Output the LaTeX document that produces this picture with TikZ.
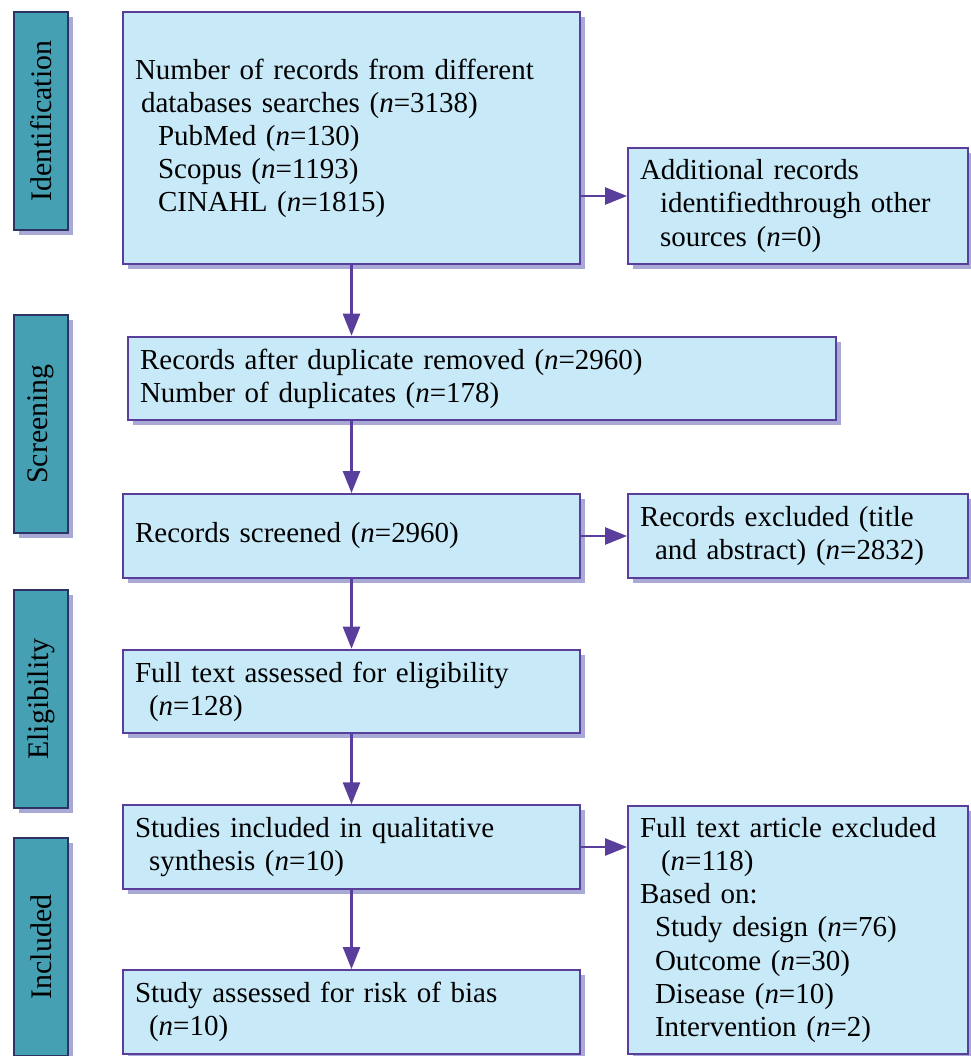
\documentclass[tikz,border=0pt]{standalone}
\usepackage{fontspec}
\setmainfont{Liberation Serif}
\usetikzlibrary{arrows.meta,shadows}
\definecolor{boxfill}{RGB}{200,233,248}
\definecolor{boxline}{RGB}{90,62,155}
\definecolor{shade}{RGB}{169,169,214}
\definecolor{stagefill}{RGB}{70,160,180}
\definecolor{stageline}{RGB}{43,52,101}
\newcommand{\nn}{\textit{n}}
\begin{document}
\begin{tikzpicture}[x=0.02cm,y=-0.02cm,
  box/.style={draw=boxline, fill=boxfill, line width=1.1pt, inner sep=0.24cm,
    align=left, font=\fontsize{16.5}{18.8}\selectfont,
    drop shadow={shadow xshift=0.1cm, shadow yshift=-0.1cm, fill=shade, opacity=1}},
  stage/.style={draw=stageline, fill=stagefill, line width=1.1pt, rotate=90,
    minimum width=4.36cm, minimum height=1.08cm, font=\fontsize{17}{18}\selectfont,
    drop shadow={shadow xshift=0.1cm, shadow yshift=-0.1cm, fill=shade, opacity=1}},
  arr/.style={draw=boxline, line width=1.4pt, -{Triangle[width=0.34cm,length=0.44cm]}}]
\useasboundingbox (0,0) rectangle (971,1056);

% stages
\node[stage] (ident) at (41,121) {Identification};
\node[stage] (screen) at (41,424) {Screening};
\node[stage] (elig) at (41,699) {Eligibility};
\node[stage] (incl) at (41,947) {Included};

% boxes
\node[box, text width=8.66cm, minimum height=5.04cm] (records) at (351.5,138)
  {Number of records from different\\
   \hspace{0.12cm}databases searches (\nn=3138)\\
   \hspace{0.46cm}PubMed (\nn=130)\\
   \hspace{0.46cm}Scopus (\nn=1193)\\
   \hspace{0.46cm}CINAHL (\nn=1815)};
\node[box, text width=6.32cm, minimum height=2.32cm] (other) at (798,206)
  {Additional records\\
   \hspace{0.4cm}identifiedthrough other\\
   \hspace{0.4cm}sources (\nn=0)};
\node[box, text width=13.68cm, minimum height=1.66cm] (dup) at (482,378.5)
  {Records after duplicate removed (\nn=2960)\\
   Number of duplicates (\nn=178)};
\node[box, text width=8.66cm, minimum height=1.68cm] (screened) at (351.5,536)
  {Records screened (\nn=2960)};
\node[box, text width=6.32cm, minimum height=1.68cm] (excl) at (798,536)
  {Records excluded (title\\
   \hspace{0.3cm}and abstract) (\nn=2832)};
\node[box, text width=8.66cm, minimum height=1.66cm] (full) at (351.5,691.5)
  {Full text assessed for eligibility\\
   \hspace{0.28cm}(\nn=128)};
\node[box, text width=8.66cm, minimum height=1.64cm] (studies) at (351.5,847)
  {Studies included in qualitative\\
   \hspace{0.28cm}synthesis (\nn=10)};
\node[box, text width=6.32cm, minimum height=4.96cm] (fullexcl) at (798,930)
  {Full text article excluded\\
   \hspace{0.42cm}(\nn=118)\\
   Based on:\\
   \hspace{0.3cm}Study design (\nn=76)\\
   \hspace{0.3cm}Outcome (\nn=30)\\
   \hspace{0.3cm}Disease (\nn=10)\\
   \hspace{0.3cm}Intervention (\nn=2)};
\node[box, text width=8.66cm, minimum height=1.68cm] (bias) at (351.5,1012)
  {Study assessed for risk of bias\\
   \hspace{0.28cm}(\nn=10)};

% arrows
\path[arr] (records.south) -- (records.south |- dup.north);
\path[arr] (records.south |- dup.south) -- (screened.north);
\path[arr] (screened.south) -- (full.north);
\path[arr] (full.south) -- (studies.north);
\path[arr] (studies.south) -- (bias.north);
\path[arr] ([yshift=0.2cm]other.west -| records.east) -- ([yshift=0.2cm]other.west);
\path[arr] (screened.east) -- (excl.west);
\path[arr] (studies.east) -- (studies.east -| fullexcl.west);
\end{tikzpicture}
\end{document}
